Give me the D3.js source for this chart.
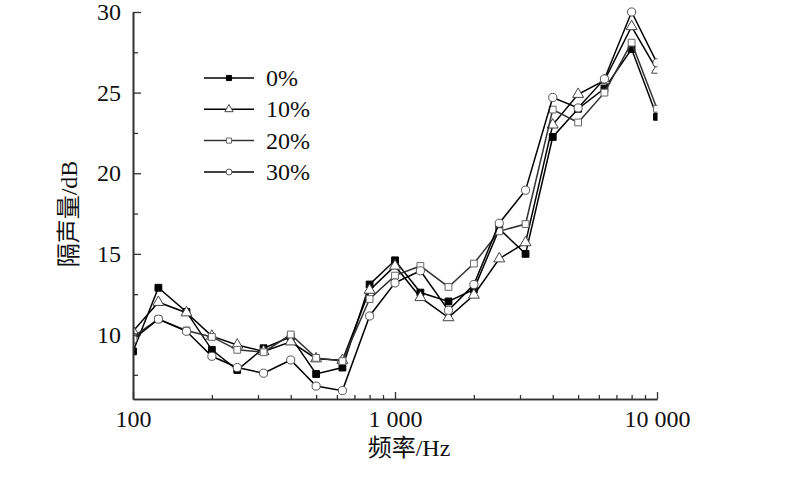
<!DOCTYPE html>
<html>
<head>
<meta charset="utf-8">
<script src="https://cdn.jsdelivr.net/npm/d3@7/dist/d3.min.js"></script>
<style>
  html, body { margin: 0; padding: 0; background: #fff; }
  svg { display: block; }
  text { font-family: "Liberation Serif", "Noto Sans CJK SC", serif; fill: #111; }
</style>
</head>
<body>
<svg id="chart" width="800" height="495"></svg>
<script>
// ---- data ----
const freqs = [100,125,160,200,250,315,400,500,630,800,1000,1250,1600,2000,2500,3150,4000,5000,6300,8000,10000];
const seriesNames = ["0%", "10%", "20%", "30%"];
const s0  = [8.95,12.9,11.4,9.05,7.8,9.15,9.85,7.55,7.95,13.1,14.6,12.6,12.05,12.8,16.55,15.0,22.25,24.0,25.25,27.7,23.5];
const s10 = [10.2,12.0,11.35,9.9,9.35,8.95,9.55,8.5,8.4,12.75,14.25,12.3,11.05,12.45,14.7,15.7,23.0,24.9,25.75,29.1,26.4];
const s20 = [9.85,10.95,10.25,9.85,9.05,8.9,10.0,8.55,8.35,12.2,13.65,14.25,12.95,14.4,16.4,16.85,23.95,23.15,25.0,28.1,24.0];
const s30 = [9.7,10.95,10.2,8.65,7.95,7.6,8.42,6.8,6.52,11.15,13.2,13.95,11.5,13.1,16.9,18.95,24.7,24.05,25.85,30.0,26.85];
const yMajorTicks = [10,15,20,25,30];
const yMinorTicks = [7.5,12.5,17.5,22.5,27.5];
const xMajorTicks = [100,1000,10000];
const xMajorLabels = ["100","1 000","10 000"];
const xMinorTicks = [200,300,400,500,600,700,800,900,2000,3000,4000,5000,6000,7000,8000,9000];
const xTitle = "频率/Hz";
const yTitle = "隔声量/dB";

// ---- styles ----
const styles = [
  {shape: "square",   fill: "#000", stroke: "#000", line: "#000"},
  {shape: "triangle", fill: "#fff", stroke: "#444", line: "#000"},
  {shape: "square",   fill: "#fff", stroke: "#666", line: "#333"},
  {shape: "circle",   fill: "#fff", stroke: "#555", line: "#000"}
];
const allSeries = [s0, s10, s20, s30];

const svg = d3.select("#chart");
const L = 133, R = 657, T = 12, B = 399;
const x = d3.scaleLog().domain([100, 10000]).range([L, R]);
const y = d3.scaleLinear().domain([6, 30]).range([B, T]);

svg.append("defs").append("clipPath").attr("id", "clip")
  .append("rect").attr("x", L).attr("y", 0).attr("width", R - L + 0.5).attr("height", B + 10);

function symbolPath(shape, big) {
  const type = shape === "square" ? d3.symbolSquare : shape === "triangle" ? d3.symbolTriangle : d3.symbolCircle;
  const size = big ? (shape === "square" ? 46 : shape === "triangle" ? 52 : 52) : (shape === "square" ? 26 : shape === "triangle" ? 30 : 28);
  return d3.symbol().type(type).size(size)();
}

// ---- series ----
const plot = svg.append("g").attr("clip-path", "url(#clip)");
const line = d3.line().x((d, i) => x(freqs[i])).y(d => y(d));
allSeries.forEach((vals, k) => {
  const st = styles[k];
  const g = plot.append("g");
  g.append("path").datum(vals).attr("d", line)
    .attr("fill", "none").attr("stroke", st.line).attr("stroke-width", 1.5);
  g.selectAll("path.m").data(vals).join("path").attr("class", "m")
    .attr("d", symbolPath(st.shape, true))
    .attr("transform", (d, i) => `translate(${x(freqs[i])},${y(d)})`)
    .attr("fill", st.fill).attr("stroke", st.stroke).attr("stroke-width", 1);
});

// ---- axes ----
const yAxis = d3.axisLeft(y).tickValues(yMajorTicks).tickSize(-8).tickSizeOuter(0).tickPadding(12);
svg.append("g").attr("transform", `translate(${L},0)`).call(yAxis);
const yMinor = d3.axisLeft(y).tickValues(yMinorTicks).tickSize(-5).tickSizeOuter(0).tickFormat("");
svg.append("g").attr("transform", `translate(${L},0)`).call(yMinor);

const xAxis = d3.axisBottom(x).tickValues(xMajorTicks).tickSize(-7).tickSizeOuter(0).tickPadding(11)
  .tickFormat((d, i) => xMajorLabels[i]);
svg.append("g").attr("transform", `translate(0,${B})`).call(xAxis);
const xMinor = d3.axisBottom(x).tickValues(xMinorTicks).tickSize(-4).tickSizeOuter(0).tickFormat("");
svg.append("g").attr("transform", `translate(0,${B})`).call(xMinor);

svg.selectAll(".domain").attr("stroke", "#333").attr("stroke-width", 1.6);
svg.selectAll(".tick line").attr("stroke", "#333").attr("stroke-width", 1.3);
svg.selectAll(".tick text").attr("font-size", 24).attr("font-family", "Liberation Serif").attr("fill", "#111");

// ---- titles ----
svg.append("text").attr("x", 409).attr("y", 456).attr("text-anchor", "middle")
  .attr("font-size", 24).text(xTitle);
svg.append("text").attr("transform", "translate(77,214) rotate(-90)").attr("text-anchor", "middle")
  .attr("font-size", 24).text(yTitle);

// ---- legend ----
const leg = svg.append("g");
const rowsY = [78, 109.3, 140.6, 172];
seriesNames.forEach((name, k) => {
  const st = styles[k];
  const yy = rowsY[k];
  leg.append("line").attr("x1", 204).attr("x2", 254).attr("y1", yy).attr("y2", yy)
    .attr("stroke", st.line).attr("stroke-width", 1.5);
  leg.append("path").attr("d", symbolPath(st.shape, false))
    .attr("transform", `translate(229,${yy})`)
    .attr("fill", st.fill).attr("stroke", st.stroke).attr("stroke-width", 1);
  leg.append("text").attr("x", 266).attr("y", yy + 8).attr("font-size", 24).text(name);
});
</script>
</body>
</html>
